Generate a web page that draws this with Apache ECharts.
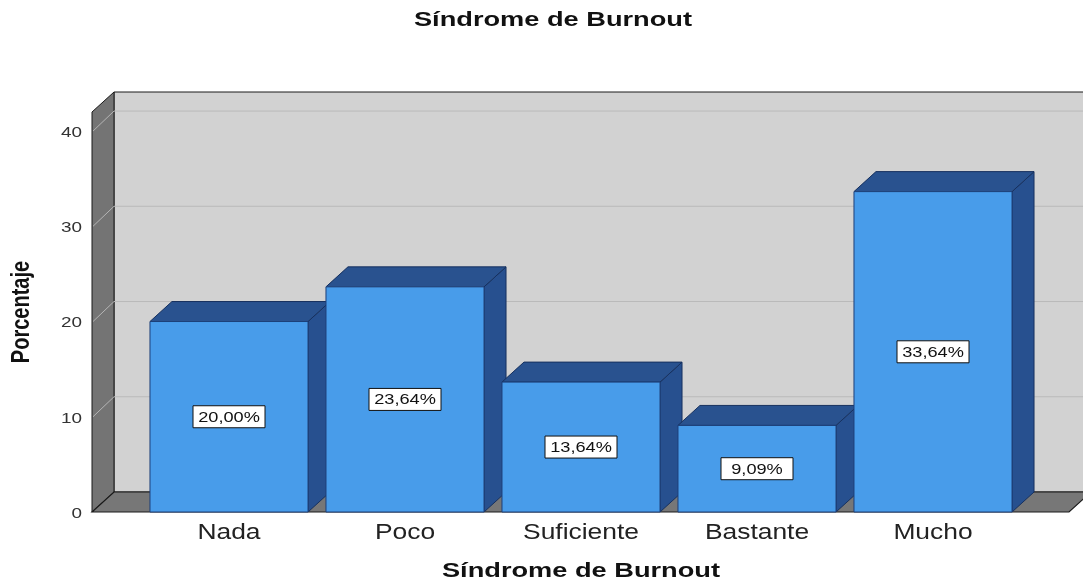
<!DOCTYPE html>
<html>
<head>
<meta charset="utf-8">
<title>Síndrome de Burnout</title>
<script src="https://cdn.jsdelivr.net/npm/echarts@6/dist/echarts.min.js"></script>
<style>
  html, body { margin: 0; padding: 0; background: #fff; }
  #chart { width: 1083px; height: 584px; }
</style>
</head>
<body>
<div id="chart"></div>
<script>
  var categories = ['Nada', 'Poco', 'Suficiente', 'Bastante', 'Mucho']
  var percentages = [20.00, 23.64, 13.64, 9.09, 33.64]
  var yTicks = [0, 10, 20, 30, 40]
  var yMax = 42

  var DX = 22, DY = 20 // profundidad del efecto 3D
  var FONT = "'Liberation Sans', Arial, sans-serif"

  function fmt(v) {
    return v.toFixed(2).replace('.', ',') + '%'
  }

  // paredes, suelo y lineas de rejilla
  function renderWalls(params, api) {
    var cs = params.coordSys
    var x0 = cs.x, x1 = cs.x + cs.width
    var yb = api.coord([0, 0])[1]
    var yt = api.coord([0, yMax])[1]
    var children = []
    children.push({
      type: 'polygon',
      shape: { points: [[x0 + DX, yt - DY], [x1 + DX, yt - DY], [x1 + DX, yb - DY], [x0 + DX, yb - DY]] },
      style: { fill: '#d2d2d2', stroke: '#1a1a1a', lineWidth: 1 }
    })
    children.push({
      type: 'polygon',
      shape: { points: [[x0, yb], [x0, yt], [x0 + DX, yt - DY], [x0 + DX, yb - DY]] },
      style: { fill: '#747474', stroke: '#1a1a1a', lineWidth: 1 }
    })
    children.push({
      type: 'polygon',
      shape: { points: [[x0, yb], [x1, yb], [x1 + DX, yb - DY], [x0 + DX, yb - DY]] },
      style: { fill: '#777777', stroke: '#1a1a1a', lineWidth: 1.2 }
    })
    yTicks.forEach(function (v) {
      var y = api.coord([0, v])[1]
      if (v > 0) {
        children.push({
          type: 'line',
          shape: { x1: x0 + 1, y1: y, x2: x0 + DX, y2: y - DY },
          style: { stroke: '#b4b4b4', lineWidth: 1 }
        })
        children.push({
          type: 'line',
          shape: { x1: x0 + DX, y1: y - DY, x2: x1 + DX, y2: y - DY },
          style: { stroke: '#bababa', lineWidth: 1 }
        })
      }
      children.push({
        type: 'text',
        x: x0 - 10,
        y: y + 2,
        scaleX: 1.35,
        style: { text: String(v), font: '14px ' + FONT, fill: '#333', align: 'right', verticalAlign: 'middle' }
      })
    })
    return { type: 'group', children: children }
  }

  // barras 3D con etiqueta
  function renderBar(params, api) {
    var i = api.value(0), v = api.value(1)
    var top = api.coord([i, v])
    var base = api.coord([i, 0])
    var mid = api.coord([i, v / 2])[1]
    var w = api.size([1, 0])[0] * 0.898
    var xl = top[0] - w / 2, xr = top[0] + w / 2
    var yt = top[1], yb = base[1]
    return {
      type: 'group',
      children: [
        {
          type: 'polygon',
          shape: { points: [[xr, yb], [xr, yt], [xr + DX, yt - DY], [xr + DX, yb - DY]] },
          style: { fill: '#27508f', stroke: '#17315f', lineWidth: 1 }
        },
        {
          type: 'polygon',
          shape: { points: [[xl, yt], [xr, yt], [xr + DX, yt - DY], [xl + DX, yt - DY]] },
          style: { fill: '#29528f', stroke: '#17315f', lineWidth: 1 }
        },
        {
          type: 'rect',
          shape: { x: xl, y: yt, width: w, height: yb - yt },
          style: { fill: '#489cea', stroke: '#1d3f78', lineWidth: 1 }
        },
        {
          type: 'rect',
          shape: { x: top[0] - 36, y: mid - 11, width: 72, height: 22 },
          style: { fill: '#fff', stroke: '#111', lineWidth: 1 }
        },
        {
          type: 'text',
          x: top[0],
          y: mid + 1,
          scaleX: 1.3,
          style: { text: fmt(v), font: '14px ' + FONT, fill: '#111', align: 'center', verticalAlign: 'middle' }
        },
        {
          type: 'text',
          x: top[0],
          y: yb + 21,
          scaleX: 1.2,
          style: { text: categories[i], font: '22px ' + FONT, fill: '#222', align: 'center', verticalAlign: 'middle' }
        }
      ]
    }
  }

  var chart = echarts.init(document.getElementById('chart'))
  var option = {
    animation: false,
    backgroundColor: '#fff',
    grid: [
      { left: 92, right: 14, top: 112, bottom: 72 },
      { left: 141, right: 62, top: 112, bottom: 72 }
    ],
    xAxis: [
      { type: 'value', gridIndex: 0, min: 0, max: 1, show: false },
      {
        type: 'category', gridIndex: 1, data: categories,
        axisLine: { show: false }, axisTick: { show: false }, axisLabel: { show: false }
      }
    ],
    yAxis: [
      {
        type: 'value', gridIndex: 0, min: 0, max: yMax, interval: 10,
        axisLine: { show: false }, axisTick: { show: false }, axisLabel: { show: false },
        splitLine: { show: false }
      },
      { type: 'value', gridIndex: 1, min: 0, max: yMax, show: false }
    ],
    graphic: [
      {
        type: 'text', x: 553, y: 20, scaleX: 1.36,
        style: { text: 'Síndrome de Burnout', font: 'bold 20px ' + FONT, fill: '#111', align: 'center', verticalAlign: 'middle' }
      },
      {
        type: 'text', x: 581, y: 571, scaleX: 1.36,
        style: { text: 'Síndrome de Burnout', font: 'bold 20px ' + FONT, fill: '#111', align: 'center', verticalAlign: 'middle' }
      },
      {
        type: 'text', x: 22, y: 312, rotation: Math.PI / 2, scaleY: 1.25,
        style: { text: 'Porcentaje', font: 'bold 20px ' + FONT, fill: '#111', align: 'center', verticalAlign: 'middle' }
      }
    ],
    series: [
      {
        type: 'custom', xAxisIndex: 0, yAxisIndex: 0, clip: false, silent: true,
        renderItem: renderWalls, data: [[0]]
      },
      {
        type: 'custom', xAxisIndex: 1, yAxisIndex: 1, clip: false,
        renderItem: renderBar,
        data: percentages.map(function (v, i) { return [i, v] })
      }
    ]
  }
  chart.setOption(option)
</script>
</body>
</html>
